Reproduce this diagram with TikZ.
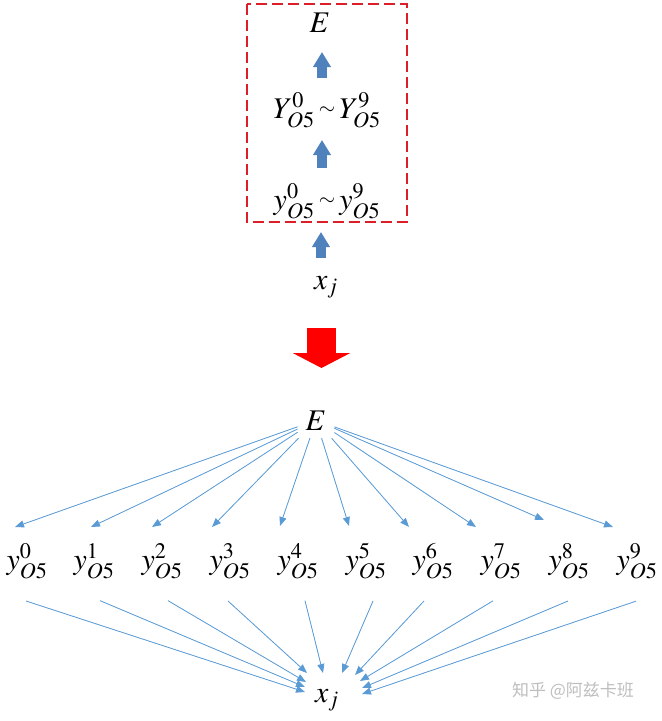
\documentclass[tikz,border=0pt]{standalone}
\usepackage{graphicx}
\usepackage{mathptmx}
\usepackage[no-math]{fontspec}
\setmainfont{Liberation Serif}
\newfontfamily\cjk{Noto Sans CJK SC}
\usetikzlibrary{arrows.meta,calc}
\definecolor{lineblue}{RGB}{91,155,213}
\definecolor{blockblue}{RGB}{79,129,189}
\definecolor{boxred}{RGB}{220,30,40}
\definecolor{arrred}{RGB}{255,0,0}
\definecolor{wm}{RGB}{190,190,190}
\newcommand{\smalltilde}{\mathbin{\raisebox{0.12em}{\scalebox{0.7}{$\sim$}}}}
\tikzset{
  lbl/.style={inner sep=0pt, font=\fontsize{30}{36}\selectfont, anchor=base},
  thin arrow/.style={draw=lineblue, line width=0.8pt, -{Triangle[length=9pt,width=7pt]}, fill=lineblue},
  block arrow/.style={draw=blockblue, line width=10pt, -{Triangle[length=15pt,width=17pt]}},
}
\begin{document}
\begin{tikzpicture}[x=1pt,y=-1pt]
\useasboundingbox (0,0) rectangle (662,721);
% top part
\draw[boxred, line width=1.8pt, dash pattern=on 11pt off 5pt] (247,4) rectangle (407,222);
\node[lbl] (Et) at (320,32) {$E$};
\node[lbl] (Yr) at (327,118) {$Y^{0}_{O5}\smalltilde Y^{9}_{O5}$};
\node[lbl] (yr) at (327,209) {$y^{0}_{O5}\smalltilde y^{9}_{O5}$};
\node[lbl] (xt) at (326,289) {$x_{j}$};
\coordinate (a1s) at (322,78); \coordinate (a1e) at (322,52);
\coordinate (a2s) at (322,168); \coordinate (a2e) at (322,140);
\coordinate (a3s) at (321,258); \coordinate (a3e) at (321,232);
\draw[block arrow] (a1s) -- (a1e);
\draw[block arrow] (a2s) -- (a2e);
\draw[block arrow] (a3s) -- (a3e);
% red transition arrow
\coordinate (rs) at (321.5,328); \coordinate (re) at (321.5,368);
\draw[arrred, line width=29pt, -{Triangle[length=15pt,width=57pt]}] (rs) -- (re);
% bottom part
\node[lbl, inner sep=8pt] (E) at (316,430) {$E$};
\foreach \i/\xx in {0/27,1/94,2/162,3/230,4/298,5/366,6/433,7/501,8/569,9/637}{
  \node[lbl] (y\i) at (\xx,569) {$y^{\i}_{O5}$};
}
\node[lbl] (xj) at (327,702) {$x_{j}$};
% arrow tips above the y row
\foreach \i/\tx/\ty in {0/15/527,1/91/527,2/152/527,3/212/527,4/280/526,5/349/526,6/409/527,7/476/527,8/544/520,9/613/527}{
  \coordinate (t\i) at (\tx,\ty);
  \draw[thin arrow] (E) -- (t\i);
}
% arrows into x_j
\foreach \i/\dx/\bx/\by in {0/-1/305/692,1/6/305/687,2/6/306/682,3/-2/307/673,4/7/323/673,5/7/342/673,6/-9/355/675,7/-8/360/681,8/-1/362/688,9/-1/362/694}{
  \coordinate (s\i) at ($(y\i.south)+(\dx,22)$);
  \coordinate (b\i) at (\bx,\by);
  \draw[thin arrow] (s\i) -- (b\i);
}
% watermark
\node[text=wm, font=\cjk\fontsize{17}{20}\selectfont, inner sep=0pt] (wmk) at (573,691) {知乎 @阿兹卡班};
\end{tikzpicture}
\end{document}
